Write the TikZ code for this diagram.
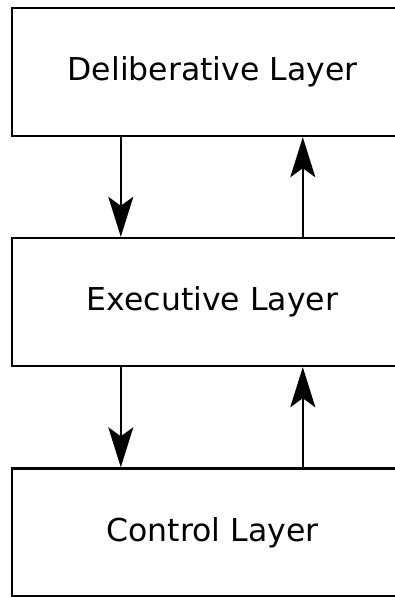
\documentclass[tikz,border=0pt]{standalone}
\usepackage{fontspec}
\setmainfont{DejaVu Sans}
\usetikzlibrary{arrows.meta}

\tikzset{
  layer/.style={draw=black, line width=2.4pt, rectangle, minimum width=401pt, minimum height=128pt,
    inner sep=0pt, font=\fontsize{31.5}{36}\selectfont},
  flow/.style={line width=2.2pt, -{Stealth[length=40pt, width=25pt, inset=9pt]}}
}

\begin{document}
\begin{tikzpicture}[x=1pt,y=1pt,yscale=-1,xscale=1]
    \useasboundingbox (0,0) rectangle (395,597);
    \clip (0,0) rectangle (395,597);

    %Shape: Rectangle [id:layers]
    \node[layer] (delib) at (212.5,72) {Deliberative Layer};
    \node[layer] (exec) at (212.5,302) {Executive Layer};
    \node[layer] (ctrl) at (212.5,532.5) {Control Layer};

    %Straight Lines [id:down]
    \draw[flow] ([xshift=110pt]delib.south west) -- ([xshift=110pt]exec.north west);
    \draw[flow] ([xshift=110pt]exec.south west) -- ([xshift=110pt]ctrl.north west);
    %Straight Lines [id:up]
    \draw[flow] ([xshift=292pt]exec.north west) -- ([xshift=292pt]delib.south west);
    \draw[flow] ([xshift=292pt]ctrl.north west) -- ([xshift=292pt]exec.south west);

\end{tikzpicture}
\end{document}
